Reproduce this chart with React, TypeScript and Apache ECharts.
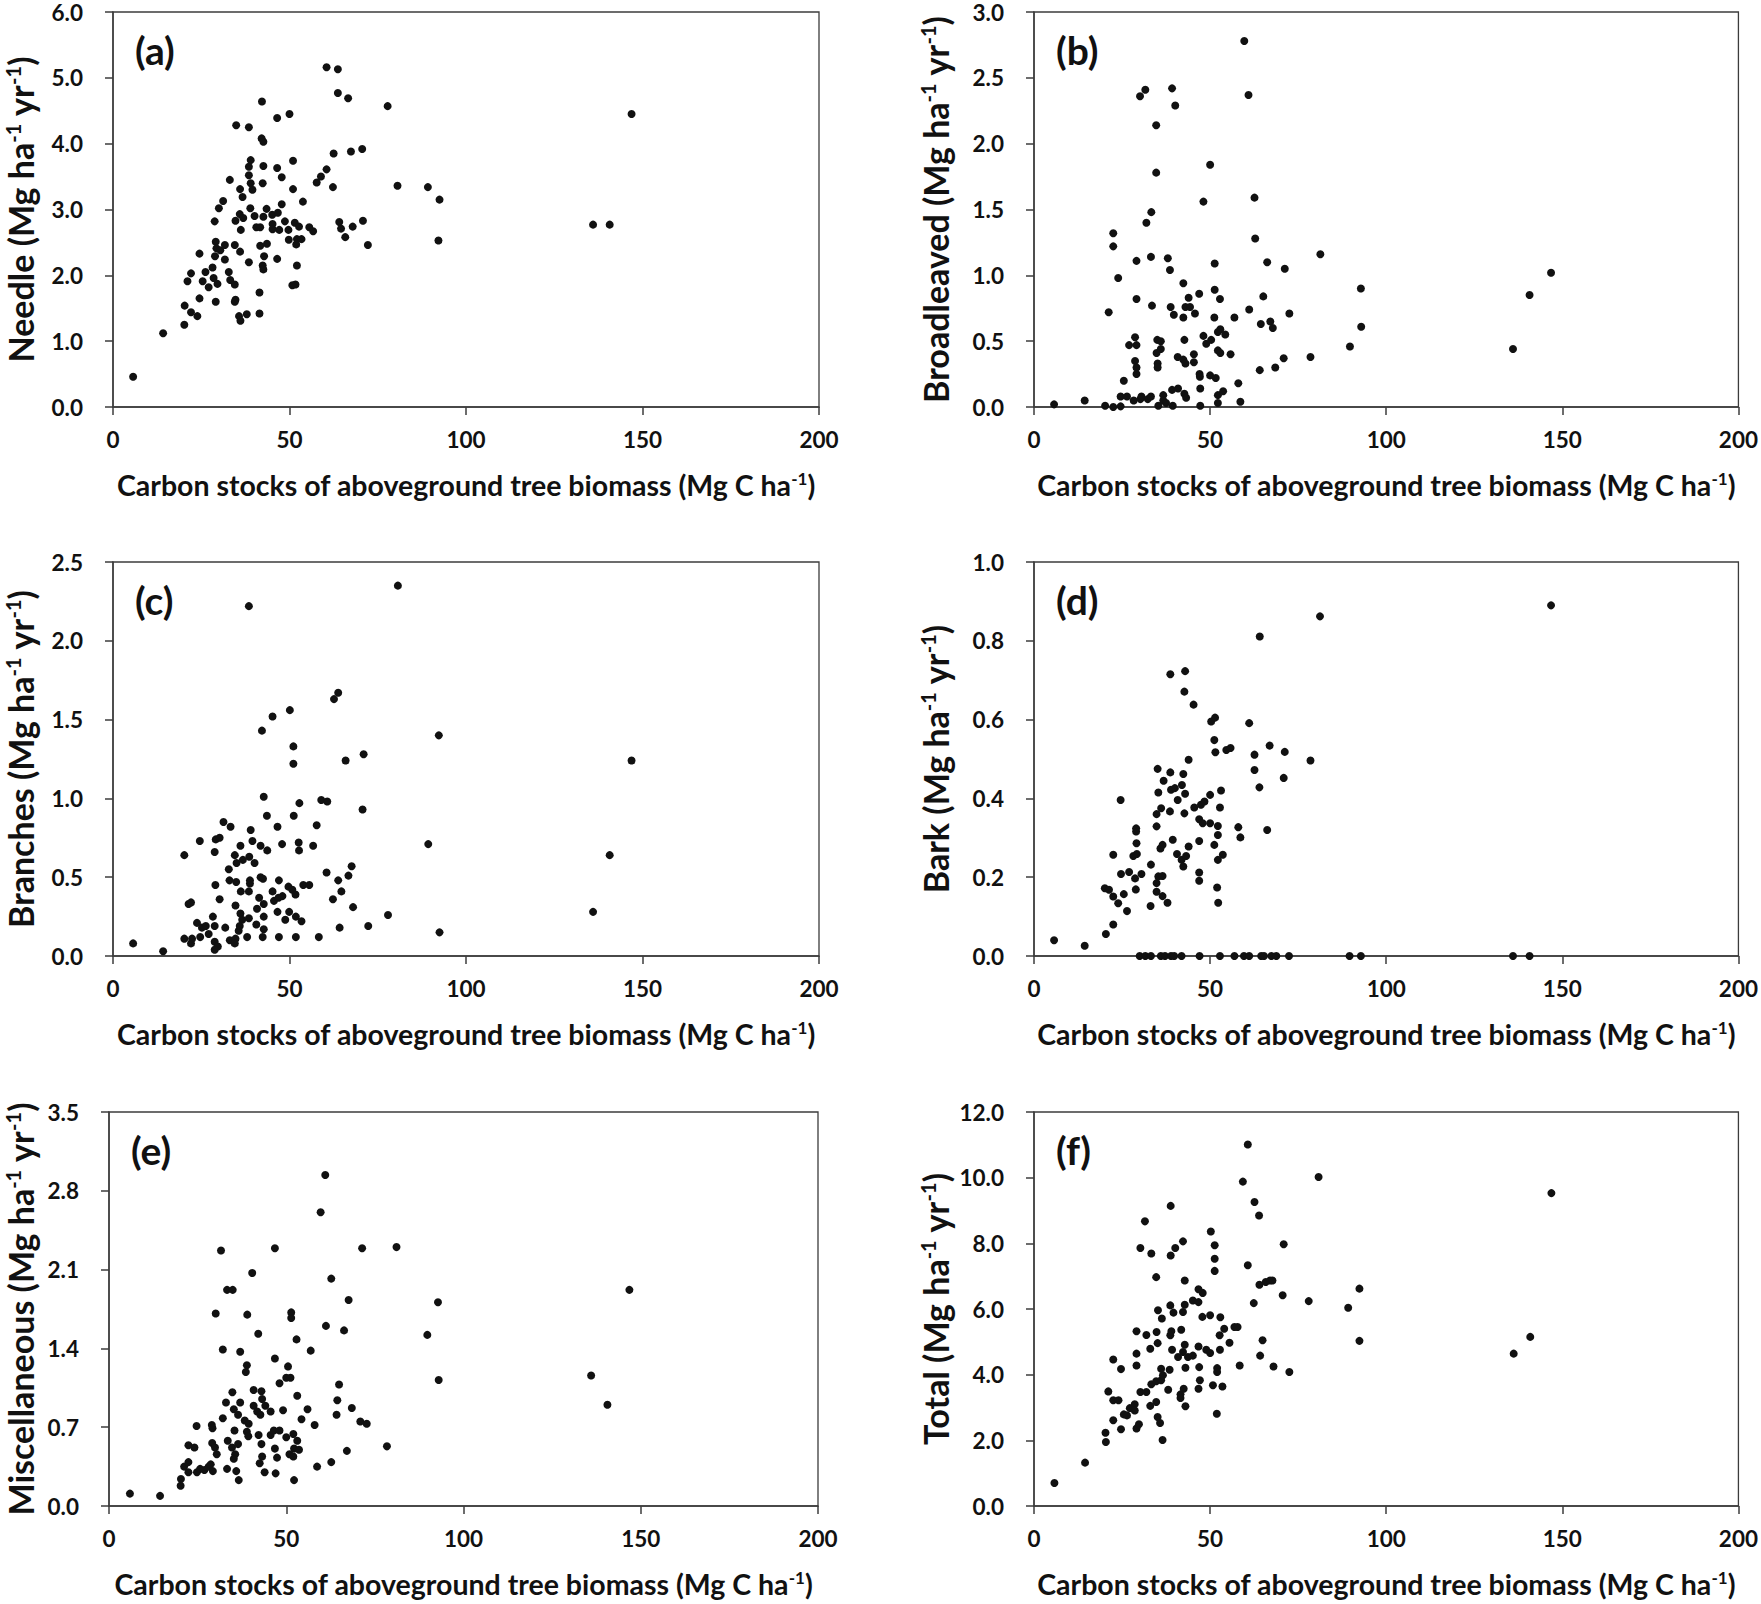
import React, { useEffect, useRef } from "react";
import * as echarts from "echarts";

// ---- data: [carbon stock (Mg C ha-1), litter (Mg ha-1 yr-1)] ----
const needleData: number[][] = [
  [5.7, 0.46], [14.2, 1.12], [20.2, 1.25], [20.3, 1.54], [22.1, 1.44], [23.9, 1.38], [24.5, 1.65],
  [21.1, 1.91], [22.1, 2.03], [24.5, 2.33], [25.4, 1.91], [26.2, 2.05], [27.1, 1.82], [28.2, 2.12],
  [28.5, 1.96], [29.6, 1.87], [29.1, 1.6], [28.9, 2.29], [29.1, 2.51], [29.3, 2.41], [30.4, 2.38],
  [31.7, 2.46], [31.7, 2.24], [28.8, 2.82], [30.0, 3.02], [31.2, 3.13], [33.1, 3.45], [32.8, 2.05],
  [33.2, 1.93], [34.5, 1.86], [34.5, 2.46], [36.0, 2.36], [34.7, 1.63], [34.5, 1.6], [35.7, 1.38],
  [36.1, 1.31], [37.9, 1.41], [41.5, 1.42], [41.5, 1.74], [38.5, 2.2], [34.7, 2.83], [35.9, 2.93],
  [36.9, 2.87], [36.2, 2.69], [36.7, 3.19], [36.0, 3.31], [34.9, 4.28], [38.5, 4.25], [42.2, 4.64],
  [42.1, 4.08], [42.6, 4.03], [39.0, 3.75], [38.5, 3.65], [38.5, 3.52], [39.0, 3.4], [39.5, 3.3],
  [42.6, 3.66], [42.4, 3.4], [46.5, 4.39], [50.0, 4.45], [46.5, 3.63], [47.8, 3.49], [51.0, 3.74],
  [51.0, 3.31], [47.8, 3.08], [53.8, 3.12], [38.9, 3.02], [40.1, 2.9], [40.6, 2.73], [41.7, 2.73],
  [42.6, 2.89], [43.5, 3.01], [45.1, 2.92], [46.7, 2.95], [45.2, 2.78], [45.2, 2.7], [47.1, 2.69],
  [48.7, 2.82], [49.7, 2.69], [51.5, 2.8], [52.7, 2.74], [49.8, 2.54], [52.1, 2.55], [53.4, 2.55],
  [51.9, 2.47], [55.6, 2.73], [56.7, 2.67], [41.7, 2.45], [43.6, 2.48], [42.8, 2.29], [46.5, 2.25],
  [42.4, 2.15], [42.6, 2.09], [52.1, 2.15], [51.7, 1.86], [50.8, 1.85], [57.7, 3.41], [58.9, 3.5],
  [60.5, 3.61], [62.3, 3.34], [62.5, 3.85], [67.4, 3.88], [70.6, 3.92], [60.5, 5.16], [63.7, 5.13],
  [63.7, 4.77], [66.6, 4.69], [77.8, 4.57], [64.1, 2.81], [64.6, 2.71], [65.8, 2.58], [67.9, 2.74],
  [70.8, 2.83], [72.2, 2.46], [80.6, 3.36], [89.2, 3.34], [92.5, 3.15], [92.2, 2.53],
  [136.0, 2.77], [140.7, 2.77], [146.9, 4.45],
];

const broadleavedData: number[][] = [
  [5.7, 0.02], [14.4, 0.05], [20.2, 0.01], [22.5, 0.0], [24.6, 0.005], [21.2, 0.72], [22.5, 1.32],
  [22.5, 1.22], [23.9, 0.98], [24.6, 0.08], [26.4, 0.08], [25.5, 0.2], [28.3, 0.05], [30.2, 0.06],
  [30.5, 0.08], [32.3, 0.06], [33.2, 0.08], [27.0, 0.47], [28.7, 0.53], [29.1, 0.47], [28.7, 0.35],
  [29.1, 0.3], [29.1, 0.25], [29.1, 0.82], [29.1, 1.11], [30.1, 2.36], [31.6, 2.41], [31.9, 1.4],
  [33.3, 1.48], [33.2, 1.14], [33.5, 0.77], [34.7, 2.14], [34.7, 1.78], [39.2, 2.42], [40.1, 2.29],
  [38.0, 1.13], [38.6, 1.04], [35.0, 0.51], [36.0, 0.5], [36.0, 0.44], [34.8, 0.41], [35.1, 0.33],
  [35.1, 0.3], [35.3, 0.01], [36.7, 0.09], [36.7, 0.05], [37.5, 0.03], [39.4, 0.01], [39.2, 0.13],
  [40.9, 0.14], [42.7, 0.1], [43.2, 0.07], [47.2, 0.01], [47.2, 0.14], [38.8, 0.76], [39.7, 0.7],
  [42.4, 0.94], [42.4, 0.68], [43.0, 0.76], [43.9, 0.83], [44.3, 0.76], [45.7, 0.71], [46.9, 0.86],
  [42.7, 0.51], [40.8, 0.38], [42.4, 0.36], [43.0, 0.33], [45.4, 0.4], [45.4, 0.34], [47.0, 0.25],
  [47.1, 0.23], [48.1, 0.54], [48.9, 0.48], [50.3, 0.51], [50.0, 0.24], [51.6, 0.22], [50.0, 1.84],
  [48.1, 1.56], [51.3, 1.09], [51.3, 0.89], [52.8, 0.82], [51.2, 0.68], [52.9, 0.59], [52.2, 0.57],
  [54.3, 0.55], [52.2, 0.43], [52.9, 0.41], [55.8, 0.4], [52.2, 0.09], [52.2, 0.03], [53.7, 0.12],
  [58.0, 0.18], [58.6, 0.04], [56.9, 0.68], [59.7, 2.78], [60.9, 2.37], [62.6, 1.59], [62.8, 1.28],
  [61.1, 0.74], [65.1, 0.84], [66.2, 1.1], [64.4, 0.63], [67.1, 0.65], [67.8, 0.6], [71.2, 1.05],
  [72.5, 0.71], [64.1, 0.28], [68.5, 0.3], [70.9, 0.37], [78.5, 0.38], [81.3, 1.16], [89.7, 0.46],
  [92.8, 0.9], [92.9, 0.61], [136.0, 0.44], [140.7, 0.85], [146.8, 1.02],
];

const branchesData: number[][] = [
  [5.7, 0.08], [14.2, 0.03], [20.2, 0.64], [20.2, 0.11], [22.1, 0.08], [22.4, 0.11], [21.4, 0.33],
  [22.1, 0.34], [23.8, 0.21], [24.7, 0.12], [24.6, 0.73], [25.2, 0.18], [26.3, 0.19], [27.1, 0.14],
  [28.3, 0.25], [28.8, 0.19], [28.8, 0.09], [29.7, 0.06], [28.8, 0.04], [29.0, 0.45], [28.8, 0.66],
  [29.1, 0.74], [30.2, 0.75], [30.2, 0.36], [31.8, 0.18], [31.3, 0.85], [33.3, 0.82], [32.8, 0.55],
  [33.0, 0.48], [34.9, 0.47], [34.5, 0.64], [35.0, 0.59], [36.1, 0.7], [36.8, 0.61], [38.6, 0.63],
  [40.1, 0.59], [39.0, 0.8], [39.5, 0.73], [41.8, 0.7], [43.7, 0.67], [38.5, 2.22], [36.2, 0.41],
  [38.5, 0.41], [38.8, 0.48], [38.8, 0.46], [34.7, 0.32], [36.1, 0.27], [36.6, 0.23], [38.5, 0.24],
  [35.9, 0.19], [35.6, 0.16], [33.1, 0.1], [34.7, 0.11], [34.5, 0.08], [38.0, 0.12], [40.6, 0.2],
  [41.8, 0.5], [42.5, 0.49], [41.4, 0.37], [40.8, 0.3], [42.7, 0.33], [42.7, 0.25], [42.7, 0.17],
  [42.4, 0.12], [45.2, 0.41], [45.6, 0.35], [46.9, 0.37], [48.0, 0.38], [46.6, 0.28], [47.0, 0.48],
  [47.0, 0.12], [48.8, 0.23], [49.9, 0.28], [51.8, 0.25], [53.4, 0.22], [51.8, 0.12], [49.7, 0.44],
  [50.8, 0.42], [51.7, 0.39], [53.9, 0.45], [55.6, 0.45], [42.7, 1.01], [43.6, 0.89], [46.6, 0.82],
  [47.9, 0.71], [42.2, 1.43], [45.2, 1.52], [50.1, 1.56], [51.1, 1.33], [51.1, 1.22], [51.2, 0.89],
  [52.8, 0.97], [52.6, 0.72], [52.7, 0.67], [56.7, 0.7], [57.7, 0.83], [58.3, 0.12], [59.0, 0.99],
  [60.7, 0.98], [62.6, 1.63], [63.8, 1.67], [60.5, 0.53], [63.8, 0.48], [62.3, 0.36], [64.7, 0.41],
  [66.7, 0.51], [67.6, 0.57], [64.2, 0.18], [68.0, 0.31], [65.9, 1.24], [71.0, 1.28], [70.7, 0.93],
  [72.3, 0.19], [77.9, 0.26], [80.7, 2.35], [89.3, 0.71], [92.3, 1.4], [92.5, 0.15],
  [136.0, 0.28], [140.7, 0.64], [146.9, 1.24],
];

const barkData: number[][] = [
  [5.7, 0.04], [14.4, 0.026], [20.4, 0.056], [22.5, 0.08], [20.1, 0.172], [21.3, 0.168], [22.5, 0.151],
  [23.9, 0.134], [25.5, 0.157], [26.4, 0.114], [22.5, 0.257], [24.7, 0.208], [24.6, 0.396], [27.0, 0.213],
  [28.7, 0.197], [28.9, 0.169], [30.5, 0.208], [28.2, 0.254], [29.2, 0.259], [29.1, 0.286], [29.0, 0.316],
  [29.0, 0.324], [33.2, 0.232], [33.1, 0.127], [34.8, 0.185], [35.3, 0.202], [36.5, 0.203], [34.8, 0.163],
  [36.5, 0.152], [37.9, 0.135], [35.9, 0.273], [36.5, 0.282], [34.8, 0.329], [34.8, 0.36], [36.1, 0.375],
  [38.6, 0.367], [35.3, 0.415], [36.8, 0.445], [35.1, 0.475], [38.7, 0.466], [38.9, 0.422], [40.0, 0.426],
  [40.8, 0.396], [42.0, 0.434], [42.4, 0.462], [42.9, 0.412], [42.7, 0.362], [38.7, 0.715], [42.9, 0.723],
  [42.7, 0.671], [45.3, 0.638], [43.9, 0.498], [39.4, 0.295], [40.6, 0.259], [41.9, 0.244], [42.4, 0.227],
  [43.2, 0.254], [43.9, 0.278], [45.5, 0.377], [47.4, 0.384], [48.4, 0.392], [50.0, 0.409], [46.9, 0.347],
  [47.9, 0.337], [50.0, 0.337], [52.2, 0.33], [52.2, 0.307], [52.8, 0.377], [53.1, 0.42], [46.9, 0.292],
  [46.9, 0.212], [46.9, 0.191], [51.2, 0.282], [53.6, 0.257], [52.2, 0.244], [52.0, 0.174], [52.3, 0.135],
  [50.3, 0.595], [51.4, 0.605], [51.2, 0.548], [51.5, 0.517], [54.6, 0.523], [55.8, 0.528], [58.0, 0.327],
  [58.6, 0.301], [61.1, 0.591], [62.6, 0.511], [62.6, 0.472], [64.1, 0.811], [64.0, 0.428], [66.2, 0.32],
  [66.9, 0.534], [71.2, 0.518], [70.9, 0.452], [78.5, 0.496], [81.2, 0.862],
  [30.0, 0], [31.6, 0], [33.2, 0], [36.0, 0], [37.2, 0], [38.9, 0], [39.8, 0], [41.9, 0], [47.0, 0],
  [52.8, 0], [56.9, 0], [59.6, 0], [61.1, 0], [64.5, 0], [65.3, 0], [67.4, 0], [68.8, 0], [72.4, 0],
  [89.6, 0], [92.8, 0], [136.0, 0], [140.7, 0], [146.8, 0.89],
];

const miscData: number[][] = [
  [5.9, 0.11], [14.4, 0.09], [20.2, 0.18], [20.3, 0.24], [21.2, 0.35], [22.4, 0.39], [22.4, 0.54],
  [24.1, 0.52], [24.7, 0.71], [22.4, 0.3], [24.8, 0.3], [25.7, 0.33], [26.9, 0.32], [28.1, 0.35],
  [28.7, 0.37], [29.3, 0.31], [29.0, 0.72], [29.2, 0.69], [29.1, 0.56], [29.9, 0.52], [30.4, 0.46],
  [30.1, 1.71], [31.6, 2.27], [32.1, 1.39], [32.1, 0.78], [33.0, 0.92], [33.3, 1.92], [34.9, 1.92],
  [34.8, 1.01], [35.4, 0.67], [35.2, 0.86], [37.0, 0.92], [36.4, 0.81], [38.3, 0.76], [39.4, 0.73],
  [38.9, 0.66], [39.3, 0.62], [33.5, 0.58], [34.7, 0.52], [36.4, 0.55], [35.6, 0.46], [35.2, 0.42],
  [33.3, 0.33], [35.9, 0.31], [36.6, 0.23], [37.0, 1.37], [38.9, 1.25], [38.6, 1.19], [39.0, 1.7],
  [40.4, 2.07], [42.1, 1.53], [40.8, 1.03], [43.0, 1.02], [43.2, 0.95], [40.8, 0.89], [41.8, 0.84],
  [42.7, 0.81], [44.1, 0.89], [45.6, 0.84], [42.2, 0.63], [43.0, 0.55], [43.2, 0.44], [42.5, 0.38],
  [43.9, 0.3], [47.0, 0.29], [45.6, 0.63], [46.5, 0.67], [48.1, 0.67], [46.8, 0.51], [47.4, 0.43],
  [46.8, 2.29], [46.8, 1.31], [48.1, 1.09], [49.1, 0.85], [50.0, 1.14], [51.2, 1.14], [50.5, 1.24],
  [51.4, 1.72], [51.4, 1.67], [52.9, 1.48], [53.1, 0.98], [50.0, 0.61], [52.0, 0.64], [53.1, 0.58],
  [52.2, 0.51], [53.6, 0.5], [50.9, 0.46], [52.0, 0.44], [52.2, 0.23], [54.3, 0.77], [56.0, 0.86],
  [56.9, 1.38], [58.0, 0.72], [58.7, 0.35], [59.7, 2.61], [61.0, 2.94], [61.2, 1.6], [62.7, 2.02],
  [62.7, 0.39], [64.2, 0.81], [64.4, 0.94], [64.9, 1.08], [66.3, 1.56], [67.6, 1.83], [67.1, 0.49],
  [68.5, 0.87], [70.9, 0.75], [72.7, 0.73], [71.4, 2.29], [78.4, 0.53], [81.1, 2.3], [89.8, 1.52],
  [92.8, 1.81], [93.0, 1.12], [136.0, 1.16], [140.6, 0.9], [146.8, 1.92],
];

const totalData: number[][] = [
  [5.8, 0.7], [14.5, 1.32], [20.3, 2.23], [20.4, 1.95], [22.5, 2.61], [24.7, 2.34], [21.1, 3.49],
  [22.5, 3.22], [24.0, 3.22], [22.5, 4.46], [24.7, 4.17], [25.5, 2.79], [26.4, 2.76], [27.2, 2.98],
  [28.6, 3.1], [28.6, 2.91], [29.1, 2.36], [29.8, 2.49], [29.1, 4.64], [29.1, 4.28], [29.1, 5.32],
  [31.9, 5.21], [30.2, 3.47], [31.9, 3.47], [33.0, 4.79], [33.0, 3.05], [34.7, 3.17], [35.1, 2.71],
  [35.8, 2.53], [36.5, 2.01], [33.3, 3.71], [34.7, 3.8], [36.1, 3.83], [36.6, 3.98], [36.1, 4.18],
  [38.5, 4.15], [38.1, 3.54], [34.8, 5.3], [35.1, 4.96], [35.2, 5.96], [36.3, 5.71], [38.7, 5.2],
  [39.0, 5.32], [39.2, 4.76], [40.9, 4.54], [41.8, 5.37], [42.8, 4.91], [42.3, 4.69], [43.7, 4.54],
  [45.1, 4.58], [46.7, 4.86], [43.0, 4.21], [42.5, 3.57], [41.6, 3.4], [41.6, 3.29], [43.0, 3.04],
  [46.9, 4.23], [47.1, 3.83], [46.7, 3.57], [48.9, 4.76], [50.0, 4.66], [38.7, 6.11], [39.6, 5.89],
  [42.3, 5.91], [42.8, 6.13], [45.1, 6.26], [46.7, 6.21], [46.7, 6.6], [47.9, 6.49], [42.8, 6.87],
  [34.7, 6.97], [30.2, 7.86], [33.3, 7.69], [31.5, 8.67], [38.8, 9.14], [38.8, 7.63], [40.1, 7.86],
  [42.3, 8.06], [47.8, 5.76], [50.0, 5.81], [52.9, 5.75], [54.0, 5.4], [52.7, 5.2], [52.8, 4.76],
  [55.5, 4.97], [56.9, 5.45], [57.8, 5.45], [52.0, 4.2], [52.0, 4.08], [50.8, 3.68], [53.5, 3.64],
  [51.9, 2.81], [50.2, 8.36], [51.3, 7.94], [51.3, 7.53], [51.3, 7.16], [58.4, 4.28], [59.3, 9.88],
  [60.7, 11.01], [60.7, 7.33], [62.6, 9.26], [63.9, 8.85], [62.4, 6.18], [64.0, 6.74], [65.8, 6.82],
  [67.0, 6.87], [67.7, 6.87], [64.9, 5.05], [64.2, 4.58], [68.0, 4.25], [70.6, 6.42], [70.9, 7.97],
  [72.5, 4.08], [78.0, 6.24], [80.8, 10.02], [89.2, 6.04], [92.4, 6.62], [92.4, 5.03],
  [136.2, 4.64], [140.9, 5.15], [146.9, 9.53],
];

const panelLetters = ["(a)", "(b)", "(c)", "(d)", "(e)", "(f)"];
const yNames = ["Needle", "Broadleaved", "Branches", "Bark", "Miscellaneous", "Total"];
const yMaxes = [6.0, 3.0, 2.5, 1.0, 3.5, 12.0];
const yIntervals = [1.0, 0.5, 0.5, 0.2, 0.7, 2.0];
const xTicks = { min: 0, max: 200, interval: 50 };
const xTitle = "Carbon stocks of aboveground tree biomass (Mg C ha{sup|-1})";
const seriesData = [needleData, broadleavedData, branchesData, barkData, miscData, totalData];

// layout (px)
const grids = [
  { left: 113, top: 12, width: 706, height: 395, nameGap: 76 },
  { left: 1034, top: 12, width: 705, height: 395, nameGap: 82 },
  { left: 113, top: 562, width: 706, height: 394, nameGap: 76 },
  { left: 1034, top: 562, width: 705, height: 394, nameGap: 82 },
  { left: 109, top: 1112, width: 709, height: 394, nameGap: 72 },
  { left: 1034, top: 1112, width: 705, height: 394, nameGap: 82 },
];

const FONT = "Lato";
const INK = "#111111";
const AXIS = "#3c3c3c";

export default function App() {
  const ref = useRef<HTMLDivElement>(null);
  useEffect(() => {
    document.body.style.margin = "0";
    if (!ref.current) return;
    const chart = echarts.init(ref.current, undefined, { renderer: "svg" });
    const supX = { fontSize: 17, fontWeight: "bold", fontFamily: FONT, color: INK, verticalAlign: "top", padding: [0, 0, 10, 0] };
    const supY = { fontSize: 20, fontWeight: "bold", fontFamily: FONT, color: INK, verticalAlign: "top", padding: [0, 0, 12, 0] };
    const option: any = {
      animation: false,
      backgroundColor: "#ffffff",
      grid: grids.map((g) => ({
        left: g.left, top: g.top, width: g.width, height: g.height,
        show: true, borderColor: AXIS, borderWidth: 1.3, backgroundColor: "transparent",
      })),
      xAxis: grids.map((g, i) => ({
        type: "value", gridIndex: i, min: xTicks.min, max: xTicks.max, interval: xTicks.interval,
        name: xTitle, nameLocation: "middle", nameGap: 63,
        nameTextStyle: {
          fontFamily: FONT, fontWeight: "bold", fontSize: 28.5, color: INK,
          rich: { sup: supX },
        },
        axisLine: { show: true, onZero: false, lineStyle: { color: AXIS, width: 1.5 } },
        axisTick: { show: true, inside: false, length: 8, lineStyle: { color: AXIS, width: 1.5 } },
        axisLabel: { fontFamily: FONT, fontWeight: "bold", fontSize: 22.5, color: INK, margin: 21 },
        splitLine: { show: false },
      })),
      yAxis: grids.map((g, i) => ({
        type: "value", gridIndex: i, min: 0, max: yMaxes[i], interval: yIntervals[i],
        name: yNames[i] + " (Mg ha{sup|-1} yr{sup|-1})", nameLocation: "middle", nameGap: g.nameGap,
        nameTextStyle: {
          fontFamily: FONT, fontWeight: "bold", fontSize: 34, color: INK,
          rich: { sup: supY },
        },
        axisLine: { show: true, onZero: false, lineStyle: { color: AXIS, width: 1.5 } },
        axisTick: { show: true, inside: false, length: 8, lineStyle: { color: AXIS, width: 1.5 } },
        axisLabel: {
          fontFamily: FONT, fontWeight: "bold", fontSize: 22.5, color: INK, margin: 30,
          formatter: (v: number) => v.toFixed(1),
        },
        splitLine: { show: false },
      })),
      series: seriesData.map((d, i) => ({
        type: "scatter", xAxisIndex: i, yAxisIndex: i, data: d,
        symbol: "circle", symbolSize: 8,
        itemStyle: { color: "#111111", opacity: 1 },
        clip: false,
      })),
      graphic: grids.map((g, i) => ({
        type: "text", left: g.left + 22, top: g.top + 18,
        style: { text: panelLetters[i], fontFamily: FONT, fontWeight: "bold", fontSize: 39, fill: INK },
      })),
    };
    chart.setOption(option);
    return () => chart.dispose();
  }, []);
  return <div ref={ref} style={{ width: 1761, height: 1604 }} />;
}
